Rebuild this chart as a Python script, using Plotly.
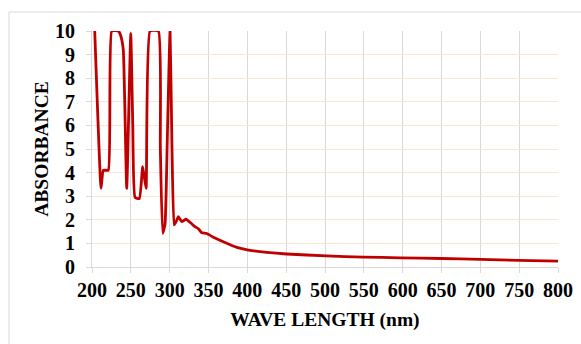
import plotly.graph_objects as go

wavelength = [203.5, 207, 211.6, 214.6, 221, 225.4, 234, 237, 240.3, 244.7, 249.9, 252.5, 255.4, 261, 265.3, 269.6,
              274.7, 285.5, 288, 291, 294, 297, 300.5, 303, 305.7, 308, 311.2, 315.6, 321, 324, 328.4, 332, 337,
              341.3, 347.8, 356.3, 369, 386.5, 401.4, 425, 450.8, 502, 549.6, 597, 650, 700, 750, 800]
absorbance = [10, 6.8, 3.33, 4.1, 4.1, 10, 10, 9.8, 9.2, 3.33, 9.9, 6.0, 2.95, 2.9, 4.25, 3.33,
              10, 10, 5.0, 1.43, 1.8, 5.5, 10, 5.0, 1.78, 1.9, 2.13, 1.92, 2.03, 1.95, 1.83, 1.72, 1.62,
              1.45, 1.42, 1.26, 1.07, 0.83, 0.72, 0.62, 0.55, 0.47, 0.42, 0.39, 0.36, 0.32, 0.28, 0.25]

x_ticks = list(range(200, 801, 50))
y_ticks = list(range(0, 11))

font_serif = "Liberation Serif, Times New Roman, serif"

fig = go.Figure()
fig.add_trace(go.Scatter(
    x=wavelength, y=absorbance, mode="lines",
    line=dict(color="#C00000", width=2.8, shape="spline", smoothing=0.4),
    showlegend=False, hoverinfo="skip",
))

fig.update_layout(
    width=581, height=344,
    margin=dict(l=92, r=23, t=31, b=77),
    paper_bgcolor="white", plot_bgcolor="white",
    font=dict(family=font_serif, color="black", size=20),
    xaxis=dict(
        range=[200, 800], tickvals=x_ticks, ticktext=[f"<b>{v}</b>" for v in x_ticks],
        showgrid=True, gridcolor="#D9D9D9", gridwidth=1,
        showline=True, linecolor="#D9D9D9", linewidth=1,
        ticks="outside", ticklen=5, tickcolor="#D9D9D9",
        tickfont=dict(family=font_serif, size=20, color="black"),
        title=dict(text="<b>WAVE LENGTH (nm)</b>", font=dict(family=font_serif, size=19.5), standoff=12),
        zeroline=False, automargin=False,
    ),
    yaxis=dict(
        range=[0, 10], tickvals=y_ticks, ticktext=[f"<b>{v}</b>" for v in y_ticks],
        showgrid=True, gridcolor="#FCE4D6", gridwidth=1,
        showline=True, linecolor="#D9D9D9", linewidth=1,
        ticks="outside", ticklen=5, tickcolor="#D9D9D9",
        tickfont=dict(family=font_serif, size=20, color="black"),
        ticklabelstandoff=7,
        title=dict(text="<b>ABSORBANCE</b>", font=dict(family=font_serif, size=19.5), standoff=1),
        zeroline=False, automargin=False,
    ),
    shapes=[dict(type="rect", xref="paper", yref="paper",
                 x0=-83/466, x1=1 + 28/466, y0=-82/236, y1=1 + 19/236,
                 line=dict(color="#D9D9D9", width=1), fillcolor="rgba(0,0,0,0)", layer="below")],
)

fig.write_html("out.html", config={"displayModeBar": False},
               post_script="document.body.style.margin='0';")
